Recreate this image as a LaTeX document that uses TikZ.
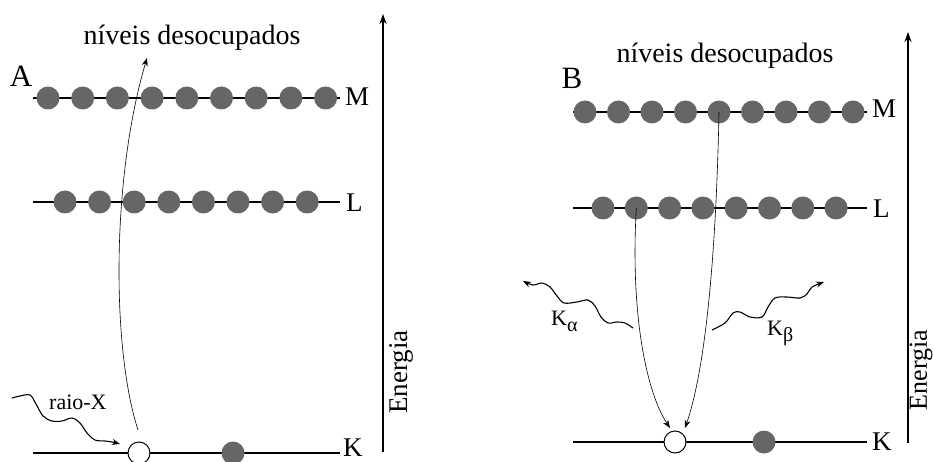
\documentclass[tikz,border=0pt]{standalone}
\usepackage{fontspec}
\setmainfont{Liberation Serif}
\usetikzlibrary{arrows.meta}
\definecolor{elgray}{HTML}{666666}
\newcommand{\subscfont}{\fontsize{20}{20}\selectfont}
\begin{document}
\begin{tikzpicture}[x=1pt,y=-1pt,
  level/.style={line width=1.2pt},
  electron/.style={circle,fill=elgray,inner sep=0pt,minimum size=23pt},
  hole/.style={circle,draw=black,line width=1pt,fill=white,inner sep=0pt,minimum size=22pt},
  trans/.style={line width=0.6pt,-{Stealth[length=8pt,width=6pt]}},
  axis/.style={line width=1.3pt,-{Stealth[length=10pt,width=7pt]}},
  wave/.style={line width=1.1pt,-{Stealth[length=8pt,width=6pt]}},
  lvllabel/.style={font=\fontsize{27}{27}\selectfont,inner sep=0pt,anchor=west},
  panel/.style={font=\fontsize{31}{31}\selectfont,inner sep=0pt},
  title/.style={font=\fontsize{28}{28}\selectfont,inner sep=0pt,anchor=base},
  energy/.style={font=\fontsize{27}{27}\selectfont,inner sep=0pt,rotate=90},
  small/.style={font=\fontsize{22}{22}\selectfont,inner sep=0pt,anchor=base west}]
\useasboundingbox (0,0) rectangle (933,462);

% ---------- Panel A ----------
\coordinate (AMl) at (33,98);  \coordinate (AMr) at (340,98);
\coordinate (ALl) at (33,202); \coordinate (ALr) at (340,202);
\coordinate (AKl) at (33,453); \coordinate (AKr) at (340,453);
\draw[level] (AMl) -- (AMr);
\draw[level] (ALl) -- (ALr);
\draw[level] (AKl) -- (AKr);
\foreach \i in {0,...,8} \node[electron] (AM\i) at ({48+34.7*\i},98) {};
\foreach \i in {0,...,7} \node[electron] (AL\i) at ({65+34.6*\i},202) {};
\node[hole] (holeA) at (139,453) {};
\node[electron] (AK1) at (233,453) {};
\node[lvllabel] (labAM) at (345,97) {M};
\node[lvllabel] (labAL) at (346,203) {L};
\node[lvllabel] (labAK) at (343,448) {K};
\node[panel] (labA) at (21,76) {A};
\node[title] (titA) at (192,45) {níveis desocupados};
\coordinate (AEbot) at (383,452); \coordinate (AEtop) at (383,14);
\draw[axis] (AEbot) -- (AEtop);
\node[energy] (enA) at (401,372) {Energia};
\coordinate (AcurveS) at (138,430); \coordinate (AcurveE) at (147,58);
\draw[trans] (AcurveS) .. controls (112,350) and (111,180) .. (AcurveE);
\coordinate (rayS) at (12,398); \coordinate (rayE) at (120,444);
\draw[wave] plot[smooth,tension=0.55] coordinates {(rayS) (20,396) (30,395) (36,404) (43,416) (52,421) (62,421) (72,418) (80,423) (87,433) (95,440) (105,441) (112,442) (rayE)};
\node[small] (labRay) at (49,409) {raio-X};

% ---------- Panel B ----------
\coordinate (BMl) at (573,112); \coordinate (BMr) at (867,112);
\coordinate (BLl) at (573,208); \coordinate (BLr) at (867,208);
\coordinate (BKl) at (573,442); \coordinate (BKr) at (867,442);
\draw[level] (BMl) -- (BMr);
\draw[level] (BLl) -- (BLr);
\draw[level] (BKl) -- (BKr);
\foreach \i in {0,...,8} \node[electron] (BM\i) at ({585+33.5*\i},112) {};
\foreach \i in {0,...,7} \node[electron] (BL\i) at ({603+33.3*\i},208) {};
\node[hole] (holeB) at (675,442) {};
\node[electron] (BK1) at (764,442) {};
\node[lvllabel] (labBM) at (872,109) {M};
\node[lvllabel] (labBL) at (873,209) {L};
\node[lvllabel] (labBK) at (872,442) {K};
\node[panel] (labB) at (572,78) {B};
\node[title] (titB) at (725,63) {níveis desocupados};
\coordinate (BEbot) at (908,443); \coordinate (BEtop) at (908,32);
\draw[axis] (BEbot) -- (BEtop);
\node[energy,font=\fontsize{26}{26}\selectfont] (enB) at (921,370) {Energia};
% transitions
\draw[trans] (BL1.center) .. controls (630,320) and (648,395) .. (670,428);
\draw[trans] (BM4.center) .. controls (716,260) and (705,370) .. (685,428);
% K alpha
\coordinate (kaS) at (633,328); \coordinate (kaE) at (523,281);
\draw[wave] plot[smooth,tension=0.55] coordinates {(kaS) (625,323) (617,322) (608,323) (601,317) (595,306) (588,300) (577,302) (564,303) (557,296) (550,287) (542,283) (533,285) (kaE)};
\node[small] (labKa) at (551,325) {K\raisebox{-0.6ex}{\subscfont α}};
% K beta
\coordinate (kbS) at (712,330); \coordinate (kbE) at (824,282);
\draw[wave] plot[smooth,tension=0.55] coordinates {(kbS) (725,323) (733,313) (740,312) (750,317) (762,317) (768,307) (775,298) (787,297) (800,298) (807,294) (812,287) (kbE)};
\node[small] (labKb) at (767,335) {K\raisebox{-0.6ex}{\subscfont β}};
\end{tikzpicture}
\end{document}
